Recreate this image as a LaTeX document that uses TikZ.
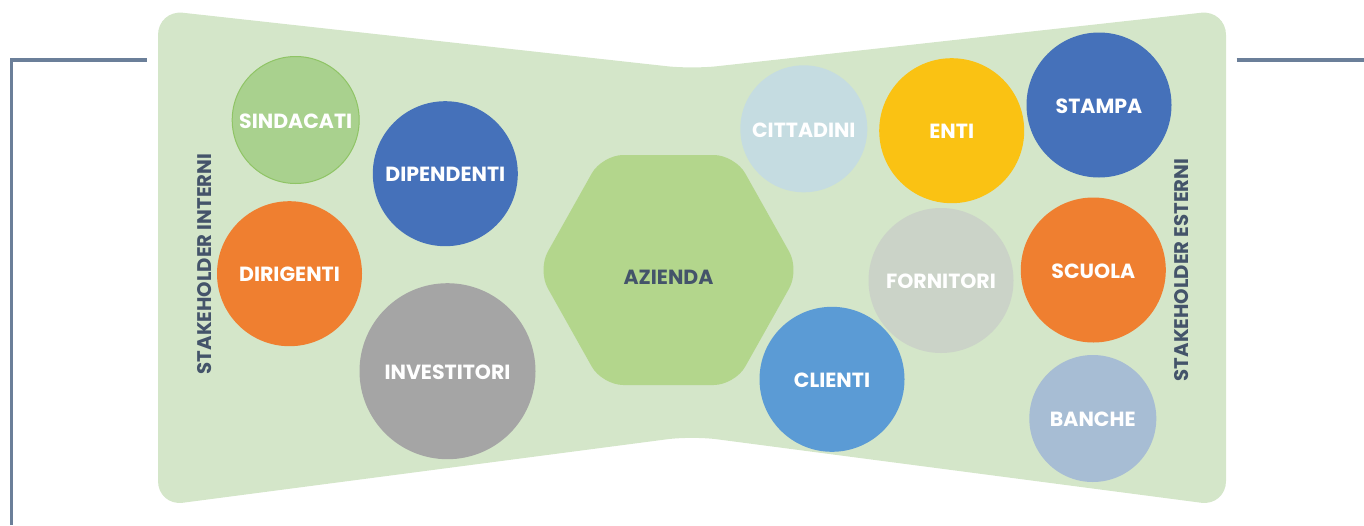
\documentclass[tikz,border=0pt]{standalone}
\usepackage{fontspec}
\setmainfont{Poppins}

\definecolor{bowtie}{HTML}{D4E6C9}
\definecolor{frameline}{HTML}{6B7F99}
\definecolor{darktext}{HTML}{44546A}
\definecolor{hexgreen}{HTML}{B3D68C}
\definecolor{lightgreen}{HTML}{A9D18E}
\definecolor{lightgreenrim}{HTML}{8FC465}
\definecolor{officeblue}{HTML}{4571BA}
\definecolor{officeorange}{HTML}{EF7F30}
\definecolor{midgray}{HTML}{A5A5A5}
\definecolor{paleblue}{HTML}{C5DCE1}
\definecolor{amber}{HTML}{FAC213}
\definecolor{palegray}{HTML}{CBD3C8}
\definecolor{skyblue}{HTML}{5B9BD5}
\definecolor{steelblue}{HTML}{A7BDD4}

\tikzset{
  bubble/.style={circle, inner sep=0pt, font=\bfseries\fontsize{20.5}{22}\selectfont,
    text=white, text height=16.5pt, text depth=0pt},
  big/.style={minimum size=145pt},
  small/.style={minimum size=127pt},
  huge/.style={minimum size=176pt},
  sidelabel/.style={rotate=90, font=\bfseries\fontsize{19.7}{21}\selectfont, text=darktext, inner sep=0pt},
  frame/.style={draw=frameline, line width=3.6pt}
}

\begin{document}
\begin{tikzpicture}[x=1pt, y=-1pt]
\useasboundingbox (0,0) rectangle (1364,525);

% corner rules
\coordinate (lbot) at (11.3,525);
\coordinate (lcorner) at (11.3,59.7);
\coordinate (lend) at (146.7,59.7);
\coordinate (rstart) at (1236.7,59.7);
\coordinate (rend) at (1364,59.7);
\draw[frame] (lbot) -- (lcorner) -- (lend);
\draw[frame] (rstart) -- (rend);

% bow-tie background
\fill[bowtie, rounded corners=25pt]
  (692,69) -- (1226,10) -- (1226,506) -- (692,436) -- (158,506) -- (158,10) -- cycle;

% central hexagon
\fill[hexgreen, rounded corners=21pt]
  (537.5,270) -- (602.1,155) -- (734.9,155) -- (799.5,270) -- (734.9,385) -- (602.1,385) -- cycle;
\node[font=\bfseries\fontsize{20.5}{22}\selectfont, text=darktext, inner sep=0pt] (azienda) at (668.5,277) {AZIENDA};

% internal stakeholders
\node[bubble, small, fill=lightgreen, draw=lightgreenrim, line width=1pt] (sindacati) at (295.7,120) {SINDACATI};
\node[bubble, big, fill=officeblue] (dipendenti) at (445.3,173.7) {DIPENDENTI};
\node[bubble, big, fill=officeorange] (dirigenti) at (289.5,273.7) {DIRIGENTI};
\node[bubble, huge, fill=midgray] (investitori) at (447.5,371.2) {INVESTITORI};

% external stakeholders
\node[bubble, small, fill=paleblue] (cittadini) at (803.8,128.8) {CITTADINI};
\node[bubble, big, fill=amber] (enti) at (951.7,130.7) {ENTI};
\node[bubble, big, fill=officeblue] (stampa) at (1099,105) {STAMPA};
\node[bubble, big, fill=palegray] (fornitori) at (941,280.5) {FORNITORI};
\node[bubble, big, fill=officeorange] (scuola) at (1093.3,270) {SCUOLA};
\node[bubble, big, fill=skyblue] (clienti) at (832,379.3) {CLIENTI};
\node[bubble, small, fill=steelblue] (banche) at (1092.8,418.5) {BANCHE};

% side captions
\node[sidelabel] (interni) at (205,264) {STAKEHOLDER INTERNI};
\node[sidelabel] (esterni) at (1182,270) {STAKEHOLDER ESTERNI};
\end{tikzpicture}
\end{document}
